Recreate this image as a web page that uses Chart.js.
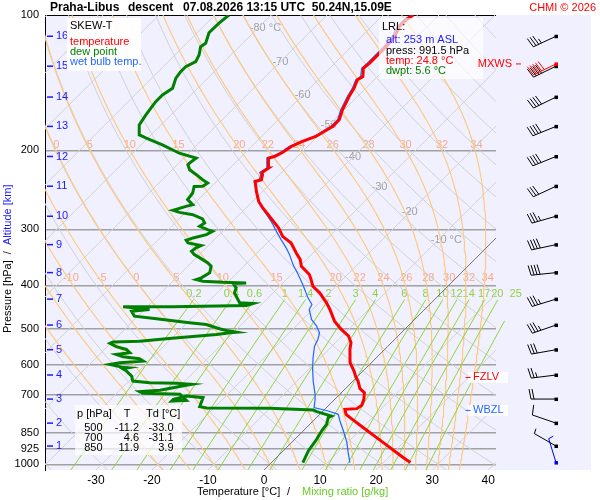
<!DOCTYPE html>
<html>
<head>
<meta charset="utf-8">
<title>Skew-T Praha-Libus</title>
<script src="https://cdn.jsdelivr.net/npm/chart.js@4.4.1/dist/chart.umd.min.js"></script>
<style>
  html, body { margin: 0; padding: 0; background: #fff; }
</style>
</head>
<body>
<canvas id="skewt" width="600" height="500"></canvas>
<script>
// sounding: pressure [hPa] and temperature [°C]
const tempP = [991.5, 966.3, 895, 828.7, 787.4, 774.3, 754.7, 752, 739.4, 717.1, 692.9, 678.9, 653, 638.5, 620.4, 594.3,
  555.2, 536.5, 518.7, 501.2, 480.3, 452.4, 437.2, 415.4, 401.6, 388.1, 378.3, 362.6, 350.4, 338.6, 321.7, 311,
  297.9, 290.4, 268.9, 260, 247, 234.7, 232.6, 226.7, 224.1, 219.1, 208.2, 206.5, 202.3, 196.2, 191.2, 186.4,
  181.7, 177.1, 171.1, 162.6, 151.9, 145.5, 139.4, 137.1, 131.4, 128, 123.8, 117.6, 111.7, 106.2, 102.6, 100];
const tempT = [24.8, 22.6, 16.4, 10.1, 6.0, 4.7, 3.6, 5.6, 5.9, 5.2, 4.1, 2.6, 0.9, -0.3, -1.6, -3.8,
  -6.2, -7.2, -8.8, -11.3, -14.0, -16.9, -18.7, -21.7, -24.1, -25.6, -26.8, -29.7, -31.1, -33.0, -35.7, -38.4,
  -40.6, -42.2, -47.0, -48.9, -51.1, -53.1, -52.3, -53.0, -53.5, -53.1, -54.9, -54.1, -53.4, -52.9, -51.8, -50.3,
  -49.7, -49.1, -49.1, -50.3, -51.5, -52.1, -53.0, -52.6, -54.0, -53.8, -53.8, -53.8, -54.1, -55.0, -55.0, -54.6];

const dewP = [991.5, 934.2, 880.1, 843.3, 814.9, 787.4, 781, 763.7, 757.4, 750.9, 749.7, 744.4, 710.9, 705.1, 717.1, 723.4,
  720.8, 698.9, 695.3, 689.3, 684.7, 667.4, 664, 660.7, 658.3, 653, 636.6, 620.4, 612.9, 609.8, 607.9, 599.5,
  594.3, 589.5, 582.3, 576.4, 569.6, 564.7, 555.2, 547.4, 538.3, 534.7, 532.1, 525.6, 514.1, 509.7, 508.2, 503.7,
  500, 488.5, 484.3, 474.5, 468.2, 456.4, 452.4, 446.2, 446.0, 443.2, 438.7, 437.2, 429.9, 415.4, 404.9, 396.2,
  394.8, 393.6, 391.6, 388.1, 384.7, 375, 362.6, 356.3, 350.4, 341.5, 335.7, 329.9, 326.1, 321.7, 317.4, 313.5,
  308.3, 303.1, 300.5, 295.4, 290.4, 284.4, 278.3, 275, 272.2, 266.7, 264.4, 257.7, 249, 240.8, 240.5, 236.6,
  232.6, 226.7, 221, 215.4, 213.6, 208.2, 203, 201.3, 194.5, 187.9, 184.8, 175.6, 166.8, 161.2, 155.9, 150.6,
  145.5, 138.2, 133.7, 130.3, 127, 122.7, 117.6, 115.6, 109.5, 104.3, 100];
const dewT = [5.6, 4.5, 3.9, 3.3, 3.0, 2.1, 2.4, -1.0, -1.9, -10.0, -21.3, -22.8, -23.8, -27.0, -28.8, -28.8,
  -26.3, -28.5, -35.3, -36.2, -32.8, -29.0, -28.2, -31.1, -36.0, -39.3, -40.4, -42.2, -43.3, -42.5, -43.8, -46.4,
  -44.9, -41.0, -42.1, -45.4, -47.0, -44.9, -46.1, -48.4, -50.1, -49.8, -45.2, -40.9, -32.7, -30.6, -29.5, -31.6,
  -33.0, -36.3, -39.6, -46.2, -50.6, -52.0, -49.1, -54.3, -45.4, -32.5, -31.7, -34.2, -35.1, -36.9, -37.5, -38.8,
  -36.6, -40.9, -44.6, -46.1, -45.5, -44.9, -45.8, -47.0, -48.5, -50.9, -52.0, -51.8, -51.3, -54.1, -54.9, -54.1,
  -52.3, -51.8, -53.0, -55.0, -54.7, -55.8, -58.3, -61.1, -62.6, -61.0, -60.1, -61.9, -62.2, -63.1, -61.6, -61.3,
  -62.8, -64.8, -66.9, -68.1, -68.1, -67.8, -71.7, -72.6, -76.2, -80.3, -82.1, -83.9, -84.5, -84.8, -85.1, -85.1,
  -84.5, -85.7, -86.0, -86.0, -85.1, -85.7, -86.9, -86.6, -87.9, -87.8, -87.5];

const wetP = [991.5, 941.9, 895.2, 843.3, 801.2, 774.3, 761.3, 748.2, 717.1, 698.9, 653, 615, 579.3, 545.9, 527.5, 509.7,
  492.8, 476.2, 452.4, 441, 426.2, 398.1, 378.3, 359.4, 341.5, 329.9, 316.2, 303.1, 292.9, 280.7, 266.7, 257.7,
  244.8, 234.7, 232.6, 226.7, 224.1, 219.1, 208.2, 206.5, 202.3, 196.2, 191.2, 186.4, 181.7, 177.1, 171.1, 162.6,
  151.9, 145.5, 139.4, 137.1, 131.4, 128, 123.8, 117.6, 111.7, 106.2, 102.6, 100];
const wetT = [14.0, 11.9, 9.9, 7.2, 4.8, 3.3, 0.9, -2.2, -3.5, -4.4, -7.1, -9.3, -11.3, -13.1, -13.7, -14.6,
  -16.3, -18.4, -20.6, -21.0, -22.9, -26.2, -28.8, -31.5, -33.9, -35.7, -38.1, -40.4, -42.2, -44.6, -47.6, -49.4,
  -51.5, -53.3, -52.7, -53.3, -53.9, -53.4, -55.2, -54.5, -53.7, -53.3, -52.1, -50.6, -50.0, -49.4, -49.4, -50.6,
  -51.8, -52.4, -53.3, -53.0, -54.3, -54.2, -54.2, -54.2, -54.5, -55.4, -55.4, -55.0];

// altitude marks (km) and the pressure at which they sit; winds at the same levels, first entry = surface
const altKm = [1, 2, 3, 4, 5, 6, 7, 8, 9, 10, 11, 12, 13, 14, 15, 16];
const windP = [991.5, 911, 810, 716, 633, 556, 490, 429, 374.5, 324.5, 280.5, 240.5, 206.5, 177, 152.3, 130, 111.5];
const windDir = [343, 300, 289, 270, 263, 260, 251, 253, 264, 258, 254, 245, 248, 248, 244, 244, 245];
const windSpd = [5, 5, 10, 20, 25, 30, 35, 35, 40, 40, 35, 30, 40, 40, 40, 40, 35];
const mxwsP = 128.5, mxwsDir = 244, mxwsSpd = 50;
const fzlvP = 641, wbzlP = 759;

// axes and reference lines
const pressTicks = [100, 200, 300, 400, 500, 600, 700, 850, 925, 1000];
const tempTicks = [-30, -20, -10, 0, 10, 20, 30, 40];
const isotherms = [-120, -110, -100, -90, -80, -70, -60, -50, -40, -30, -20, -10, 0, 10, 20, 30, 40];
const isoLabelT = [-80, -70, -60, -50, -40, -30, -20, -10];
const isoLabelP = [107, 127, 151, 176, 207, 241, 275, 316];
const dryTheta = [-40, -30, -20, -10, 0, 10, 20, 30, 40, 50, 60, 70, 80, 90, 100, 110, 120, 130, 140, 150, 160, 170, 180, 190, 200];
const moistThetaW = [-20, -15, -10, -5, 0, 5, 10, 15, 20, 22, 24, 26, 28, 30, 32, 34];
const moistLabelsHigh = [0, 5, 10, 15, 20, 22, 24, 26, 28, 30, 32, 34];
const moistLabelsLow = [-10, -5, 0, 5, 10, 15, 20, 22, 24, 26, 28, 30, 32, 34];
const mixRatios = [0.2, 0.4, 0.6, 1, 1.4, 2, 3, 4, 6, 8, 10, 12, 14, 17, 20, 25];

// table and surface values
const tabP = [500, 700, 850];
const tabT = [-11.2, 4.6, 11.9];
const tabTd = [-33.0, -31.1, 3.9];

const P_BOT = 1030, P_TOP = 100, SKEW = 80.2;
const FONT = "'Liberation Sans', Arial, sans-serif";
const BLUE_WB = '#2266ff';

function skewX(t, p) { return t + SKEW * Math.log10(P_BOT / p); }

function es(tc) { return 6.112 * Math.exp(17.67 * tc / (tc + 243.5)); }

// saturated lapse rate dT/dp in K/hPa
function moistRate(T, p) {
  const e = es(T - 273.15);
  const rs = 0.622 * e / (p - e);
  const Rd = 287.04, cp = 1005.7, Lv = 2.501e6;
  return (Rd * T + Lv * rs) / (p * (cp + Lv * Lv * rs * 0.622 / (Rd * T * T)));
}

function moistCurve(thw) {
  const pts = [];
  let T = thw + 273.15, p = 1000;
  pts.push({ p: P_BOT, t: T + moistRate(T, p) * (P_BOT - 1000) - 273.15 });
  let n = 0;
  while (p > P_TOP) {
    if (n % 4 === 0) pts.push({ p, t: T - 273.15 });
    const h = -2;
    const k1 = moistRate(T, p);
    const k2 = moistRate(T + k1 * h / 2, p + h / 2);
    const k3 = moistRate(T + k2 * h / 2, p + h / 2);
    const k4 = moistRate(T + k3 * h, p + h);
    T += h * (k1 + 2 * k2 + 2 * k3 + k4) / 6;
    p += h;
    n++;
  }
  pts.push({ p: P_TOP, t: T - 273.15 });
  return pts;
}

function curveAt(pts, p) {
  for (let i = 1; i < pts.length; i++) {
    if (pts[i].p <= p) {
      const a = pts[i - 1], b = pts[i];
      const f = (a.p - p) / (a.p - b.p);
      return a.t + f * (b.t - a.t);
    }
  }
  return pts[pts.length - 1].t;
}

function mixDewpoint(w, p) {
  const e = (w / 1000) * p / (0.622 + w / 1000);
  const l = Math.log(e / 6.112);
  return 243.5 * l / (17.67 - l);
}

function levels(pFrom, pTo, n) {
  const out = [];
  for (let i = 0; i <= n; i++) out.push(pFrom * Math.pow(pTo / pFrom, i / n));
  return out;
}

function lineSet(data, color, width, extra) {
  return Object.assign({ data, borderColor: color, borderWidth: width, pointRadius: 0,
    showLine: true, fill: false, tension: 0 }, extra || {});
}

const profile = (ps, ts) => ps.map((p, i) => ({ x: skewX(ts[i], p), y: p }));

const moistCurves = moistThetaW.map(moistCurve);

const datasets = [];
datasets.push(lineSet(profile(tempP, tempT), '#ff0000', 3));
datasets.push(lineSet(profile(dewP, dewT), '#008000', 3));
datasets.push(lineSet(profile(wetP, wetT), BLUE_WB, 1.2));
datasets.push(lineSet([{ x: skewX(0, P_BOT), y: P_BOT }, { x: skewX(0, P_TOP), y: P_TOP }], '#777777', 1));
mixRatios.forEach(w => {
  const pts = levels(P_BOT, 430, 8).map(p => ({ x: skewX(mixDewpoint(w, p), p), y: p }));
  datasets.push(lineSet(pts, '#93d43a', 1, { clip: { left: 0, top: 0, right: 30, bottom: 0 } }));
});
moistCurves.forEach(c => {
  datasets.push(lineSet(c.map(o => ({ x: skewX(o.t, o.p), y: o.p })), '#ffc878', 1.1));
});
dryTheta.forEach(th => {
  const pts = levels(P_BOT, P_TOP, 30).map(p => ({ x: skewX((th + 273.15) * Math.pow(p / 1000, 0.2857) - 273.15, p), y: p }));
  datasets.push(lineSet(pts, '#d2d2d2', 1));
});
isotherms.forEach(t => {
  if (t === 0) return;
  datasets.push(lineSet([{ x: skewX(t, P_BOT), y: P_BOT }, { x: skewX(t, P_TOP), y: P_TOP }], '#d2d2d2', 1));
});

function txt(ctx, s, x, y, color, size, align, bold) {
  ctx.font = (bold ? 'bold ' : '') + size + 'px ' + FONT;
  ctx.fillStyle = color;
  ctx.textAlign = align || 'left';
  ctx.textBaseline = 'middle';
  ctx.fillText(s, x, y);
}

function drawBarb(ctx, x, y, dir, spd, color) {
  const a = dir * Math.PI / 180;
  const ux = Math.sin(a), uy = -Math.cos(a);
  const vx = -uy, vy = ux;
  const L = 25;
  ctx.save();
  ctx.strokeStyle = color;
  ctx.lineWidth = 1;
  ctx.beginPath();
  ctx.moveTo(x, y);
  ctx.lineTo(x + ux * L, y + uy * L);
  let pos = L;
  const full = Math.floor(spd / 10), half = (spd % 10) >= 5;
  for (let i = 0; i < full; i++) {
    const bx = x + ux * pos, by = y + uy * pos;
    ctx.moveTo(bx, by);
    ctx.lineTo(bx + vx * 10 + ux * 2, by + vy * 10 + uy * 2);
    pos -= 3;
  }
  if (half) {
    const bx = x + ux * pos, by = y + uy * pos;
    ctx.moveTo(bx, by);
    ctx.lineTo(bx + vx * 5 + ux * 1, by + vy * 5 + uy * 1);
  }
  ctx.stroke();
  ctx.fillStyle = color;
  ctx.fillRect(x - 1.5, y - 1.5, 3.5, 3.5);
  ctx.restore();
}

const skewPlugin = {
  id: 'skewt',
  beforeDraw(chart) {
    const { ctx, chartArea: a } = chart;
    ctx.save();
    ctx.fillStyle = '#ffffff';
    ctx.fillRect(0, 0, chart.width, chart.height);
    ctx.fillStyle = '#f0f0ff';
    ctx.fillRect(a.left, a.top, 591 - a.left, a.bottom - a.top);
    ctx.restore();
  },
  beforeDatasetsDraw(chart) {
    const { ctx } = chart;
    const xs = chart.scales.x, ys = chart.scales.y;
    const px = (t, p) => xs.getPixelForValue(skewX(t, p));
    const py = p => ys.getPixelForValue(p);
    ctx.save();
    // isotherm labels
    isoLabelT.forEach((t, i) => {
      ctx.font = '11px ' + FONT;
      const num = String(t);
      const w = ctx.measureText(num).width;
      const s = (i === 0 || i === isoLabelT.length - 1) ? num + ' °C' : num;
      txt(ctx, s, px(t, isoLabelP[i]) - w / 2, py(isoLabelP[i]), '#a0a0a0', 11, 'left');
    });
    // moist adiabat labels
    [[194.5, moistLabelsHigh], [384.5, moistLabelsLow]].forEach(([p, list]) => {
      list.forEach(th => {
        const c = moistCurves[moistThetaW.indexOf(th)];
        const x = px(curveAt(c, p), p) + 3;
        if (x > 50) txt(ctx, String(th), x, py(p), '#f7a98a', 11, 'center');
      });
    });
    // mixing ratio labels
    mixRatios.forEach(w => {
      txt(ctx, String(w), px(mixDewpoint(w, 417), 417) - 4, py(417), '#8fd13f', 11, 'center');
    });
    ctx.restore();
  },
  afterDatasetsDraw(chart) {
    const { ctx, chartArea: a } = chart;
    const ys = chart.scales.y;
    const py = p => ys.getPixelForValue(p);
    ctx.save();
    // altitude marks
    altKm.forEach((km, i) => {
      const y = py(windP[i + 1]);
      ctx.strokeStyle = '#1a1aff';
      ctx.lineWidth = 1.5;
      ctx.beginPath(); ctx.moveTo(a.left + 2, y); ctx.lineTo(a.left + 8, y); ctx.stroke();
      txt(ctx, String(km), a.left + 11, y, '#1a1aff', 11, 'left');
    });
    // legend box
    ctx.fillStyle = 'rgba(255,255,255,0.9)';
    ctx.fillRect(67, 18, 74, 53);
    txt(ctx, 'SKEW-T', 70, 26, '#000', 11);
    txt(ctx, 'temperature', 70, 42, '#ff0000', 11);
    txt(ctx, 'dew point', 70, 52, '#008000', 11);
    txt(ctx, 'wet bulb temp.', 70, 62, BLUE_WB, 11);
    // launch point box
    ctx.fillStyle = 'rgba(255,255,255,0.65)';
    ctx.fillRect(379, 18, 104, 61);
    txt(ctx, 'LRL:', 382, 27, '#000', 11);
    txt(ctx, 'alt: 253 m ASL', 386, 40, '#1a1aff', 11);
    txt(ctx, 'press: ' + tempP[0].toFixed(1) + ' hPa', 386, 50.5, '#000', 11);
    txt(ctx, 'temp: ' + tempT[0].toFixed(1) + ' °C', 386, 60.7, '#ff0000', 11);
    txt(ctx, 'dwpt: ' + dewT[0].toFixed(1) + ' °C', 386, 70.7, '#008000', 11);
    // standard levels table
    ctx.fillStyle = 'rgba(255,255,255,0.7)';
    ctx.fillRect(75, 405, 107, 50);
    txt(ctx, 'p [hPa]', 77, 414, '#000', 11);
    txt(ctx, 'T', 127, 414, '#000', 11, 'center');
    txt(ctx, 'Td [°C]', 146, 414, '#000', 11);
    tabP.forEach((p, i) => {
      const y = 428 + i * 10;
      txt(ctx, String(p), 102.5, y, '#000', 11, 'right');
      txt(ctx, tabT[i].toFixed(1), 139, y, '#000', 11, 'right');
      txt(ctx, tabTd[i].toFixed(1), 173.5, y, '#000', 11, 'right');
    });
    // freezing / wet bulb zero levels
    [[fzlvP, 'FZLV', '#ff0000'], [wbzlP, 'WBZL', BLUE_WB]].forEach(([p, s, col]) => {
      const y = py(p);
      ctx.fillStyle = 'rgba(255,255,255,0.85)';
      ctx.fillRect(468, y - 5.5, 40, 11);
      ctx.strokeStyle = col; ctx.lineWidth = 1;
      ctx.beginPath(); ctx.moveTo(465.5, y); ctx.lineTo(470.5, y); ctx.stroke();
      txt(ctx, s, 473, y, col, 11);
    });
    // winds
    const sx = a.right + 60;
    windP.forEach((p, i) => {
      drawBarb(ctx, sx, py(p), windDir[i], windSpd[i], i === 0 ? '#0000ff' : '#000000');
    });
    drawBarb(ctx, sx, py(mxwsP), mxwsDir, mxwsSpd, '#ff0000');
    const my = py(mxwsP);
    txt(ctx, 'MXWS', 512, my, '#ff0000', 11, 'right');
    ctx.strokeStyle = '#ff0000';
    ctx.beginPath(); ctx.moveTo(516, my); ctx.lineTo(521, my); ctx.stroke();
    ctx.restore();
  },
  afterDraw(chart) {
    const { ctx } = chart;
    ctx.save();
    txt(ctx, 'Praha-Libus', 50, 8, '#000', 12, 'left', true);
    txt(ctx, 'descent', 128, 8, '#000', 12, 'left', true);
    txt(ctx, '07.08.2026 13:15 UTC  50.24N,15.09E', 183, 8, '#000', 12, 'left', true);
    txt(ctx, 'CHMI © 2026', 596, 8, '#ff0000', 11, 'right');
    // x axis title
    txt(ctx, 'Temperature [°C]', 197, 492, '#000', 11);
    txt(ctx, '/', 287, 492, '#000', 11);
    txt(ctx, 'Mixing ratio [g/kg]', 302, 492, '#66cc22', 11);
    // y axis title
    ctx.translate(8, 333);
    ctx.rotate(-Math.PI / 2);
    ctx.font = '11px ' + FONT;
    const w1 = ctx.measureText('Pressure [hPa]').width;
    const w2 = ctx.measureText('  /  ').width;
    txt(ctx, 'Pressure [hPa]', 0, 0, '#000', 11);
    txt(ctx, '  /  ', w1, 0, '#000', 11);
    txt(ctx, 'Altitude [km]', w1 + w2, 0, '#1a1aff', 11);
    ctx.restore();
  }
};

Chart.defaults.font.family = FONT;

new Chart(document.getElementById('skewt'), {
  type: 'scatter',
  data: { datasets },
  options: {
    responsive: false,
    animation: false,
    events: [],
    layout: { padding: { top: 15, right: 104, left: 0, bottom: 0 } },
    plugins: { legend: { display: false }, tooltip: { enabled: false } },
    scales: {
      x: {
        type: 'linear',
        min: -39.1,
        max: 41.4,
        grid: { display: false, drawTicks: false },
        border: { display: false },
        afterBuildTicks: s => { s.ticks = tempTicks.map(v => ({ value: v })); },
        afterFit: s => { s.height = 30; },
        ticks: { autoSkip: false, maxRotation: 0, padding: 3, color: '#000', font: { size: 12 },
          callback: v => String(v) }
      },
      y: {
        type: 'logarithmic',
        reverse: true,
        min: P_TOP,
        max: P_BOT,
        grid: {
          drawTicks: false,
          color: c => (c.tick && c.tick.value === 100) ? '#000000' : '#a0a0a0',
          lineWidth: c => (c.tick && c.tick.value === 100) ? 1 : 1.4
        },
        border: { display: true, color: '#000', width: 1 },
        afterBuildTicks: s => { s.ticks = pressTicks.map(v => ({ value: v })); },
        afterFit: s => { s.width = 45; },
        ticks: { autoSkip: false, padding: 6, color: '#000', font: { size: 11 },
          callback: v => String(v) }
      }
    }
  },
  plugins: [skewPlugin]
});
</script>
</body>
</html>
